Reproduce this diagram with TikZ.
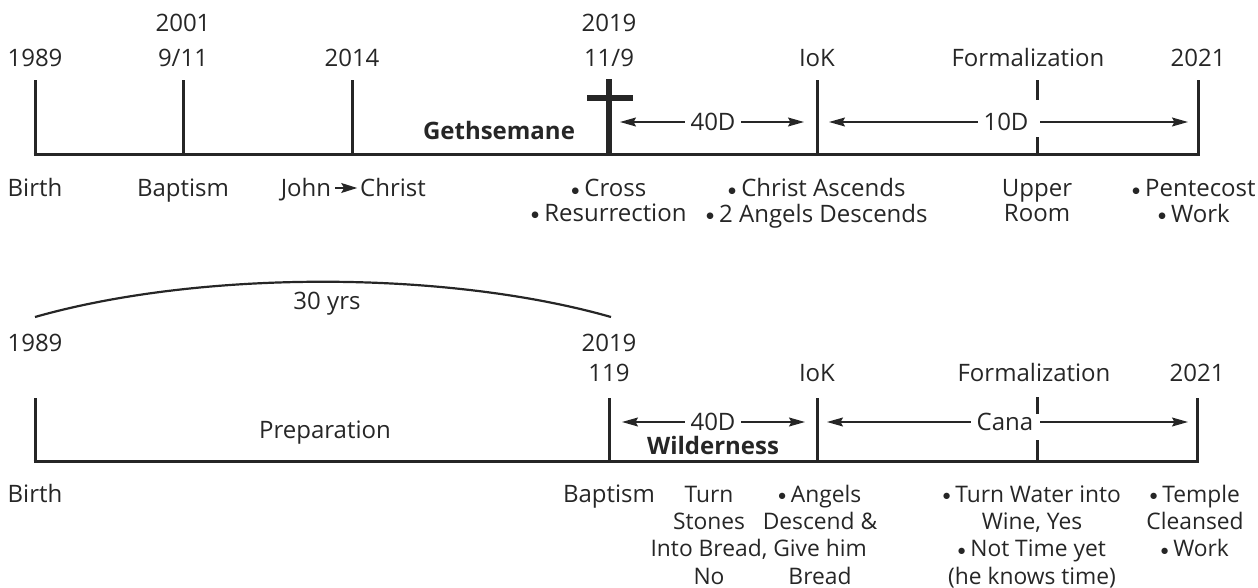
\documentclass[tikz,border=0pt]{standalone}
\usepackage{fontspec}
\usepackage{graphicx}
\setmainfont{Open Sans}
\newfontfamily\symfont{DejaVu Sans}
\usetikzlibrary{arrows.meta}
\newcommand\bl{\raisebox{0.16em}{\scalebox{0.36}{\symfont ●}}\hspace{0.22em}}
\newcommand\ml[1]{\begin{tabular}[t]{@{}c@{}}#1\end{tabular}}
\begin{document}
\begin{tikzpicture}[x=0.5pt,y=-0.5pt,
  every node/.style={inner sep=0pt,outer sep=0pt,font=\fontsize{12}{12}\selectfont,text=black!85},
  lbl/.style={anchor=base},
  mlbl/.style={anchor=base,font=\fontsize{12}{12}\selectfont},
  mlblb/.style={anchor=base,font=\fontsize{11.4}{13.7}\selectfont},
  axis/.style={line width=1.5pt,draw=black!85},
  tick/.style={line width=1.5pt,draw=black!85},
  arr/.style={line width=0.7pt,draw=black!85,-{Stealth[length=8pt,width=4.5pt,inset=1.2pt]}},
  alab/.style={inner sep=3pt},
  cross/.style={line width=2.6pt,draw=black!85},
  arcl/.style={line width=1.1pt,draw=black!85}]
\useasboundingbox (0,0) rectangle (1258,588);

% ===== top timeline =====
\coordinate (tA) at (35,155);
\coordinate (tB) at (183,155);
\coordinate (tC) at (352,155);
\coordinate (tD) at (609,155);
\coordinate (tE) at (817,155);
\coordinate (tF) at (1037,155);
\coordinate (tG) at (1198,155);
\draw[axis] ([xshift=-0.75pt]tA) -- ([xshift=0.75pt]tG);
\draw[tick] (tA) -- ++(0,-75);
\draw[tick] (tB) -- ++(0,-75);
\draw[tick] (tC) -- ++(0,-75);
\draw[tick] (tE) -- ++(0,-75);
\draw[tick] (tG) -- ++(0,-75);
\draw[tick] (tF) -- ++(0,-18);
\draw[tick] (1037,100) -- (1037,80);
\draw[cross] (tD) -- (609,79);
\draw[cross] (587,98) -- (633,98);

\node[lbl] (t1989) at (35,67) {1989};
\node[lbl] (t2001) at (183,32) {2001};
\node[lbl] (t911) at (183,67) {9/11};
\node[lbl] (t2014) at (352,67) {2014};
\node[lbl] (t2019) at (609,32) {2019};
\node[lbl] (t119) at (609,67) {11/9};
\node[lbl] (tiok) at (817,67) {IoK};
\node[lbl] (tform) at (1028,67) {Formalization};
\node[lbl] (t2021) at (1198,67) {2021};

\node[lbl,font=\fontsize{12}{12}\selectfont\bfseries] (geth) at (499,140) {Gethsemane};

\node[alab] (t40) at (713,122) {40D};
\coordinate (t40l) at (620,122);
\coordinate (t40r) at (804,122);
\draw[arr] (t40.west) -- (t40l);
\draw[arr] (t40.east) -- (t40r);

\node[alab] (t10) at (1006,122) {10D};
\coordinate (t10l) at (829,122);
\coordinate (t10r) at (1188,122);
\draw[arr] (t10.west) -- (t10l);
\draw[arr] (1040,122) -- (t10r);

\node[lbl] (tbirth) at (35,197) {Birth};
\node[lbl] (tbapt) at (183,197) {Baptism};
\node[lbl] (john) at (306,197) {John};
\node[lbl] (christ) at (393,197) {Christ};
\draw[line width=0.7pt,draw=black!85,-{Stealth[length=8pt,width=5pt,inset=1.5pt]}] (john.east |- 0,188) ++(4,0) -- ([xshift=-1.5pt]christ.west |- 0,188);
\node[mlbl] (tcross) at (609,197) {\ml{\bl Cross\\\bl Resurrection}};
\node[mlbl] (tasc) at (817,197) {\ml{\bl Christ Ascends\\\bl 2 Angels Descends}};
\node[mlbl] (tupper) at (1037,197) {\ml{Upper\\Room}};
\node[mlbl] (tpent) at (1194,197) {\ml{\bl Pentecost\\\bl Work}};

% ===== bottom timeline =====
\coordinate (bA) at (35,461);
\coordinate (bD) at (609,461);
\coordinate (bE) at (817,461);
\coordinate (bF) at (1037,461);
\coordinate (bG) at (1197,461);
\draw[axis] ([xshift=-0.75pt]bA) -- ([xshift=0.75pt]bG);
\draw[tick] (bA) -- ++(0,-63);
\draw[tick] (bD) -- ++(0,-63);
\draw[tick] (bE) -- ++(0,-63);
\draw[tick] (bG) -- ++(0,-63);
\draw[tick] (bF) -- ++(0,-21);
\draw[tick] (1037,414) -- (1037,397);

\coordinate (arcL) at (35,317);
\coordinate (arcR) at (611,317);
\draw[arcl] (arcL) .. controls (200,270) and (446,270) .. (arcR);
\node[lbl] (yrs) at (327,309) {30 yrs};

\node[lbl] (b1989) at (35,351) {1989};
\node[lbl] (b2019) at (609,351) {2019};
\node[lbl] (b119) at (609,381) {119};
\node[lbl] (biok) at (817,381) {IoK};
\node[lbl] (bform) at (1034,381) {Formalization};
\node[lbl] (b2021) at (1197,381) {2021};

\node[lbl] (prep) at (325,438) {Preparation};

\node[alab] (b40) at (713,422) {40D};
\coordinate (b40l) at (622,422);
\coordinate (b40r) at (805,422);
\draw[arr] (b40.west) -- (b40l);
\draw[arr] (b40.east) -- (b40r);
\node[lbl,font=\fontsize{12}{12}\selectfont\bfseries] (wild) at (713,454) {Wilderness};

\node[alab] (cana) at (1005,422) {Cana};
\coordinate (canal) at (827,422);
\coordinate (canar) at (1188,422);
\draw[arr] (cana.west) -- (canal);
\draw[arr] (1040,422) -- (canar);

\node[lbl] (bbirth) at (35,502) {Birth};
\node[lbl] (bbapt) at (609,502) {Baptism};
\node[mlblb] (stones) at (709,502) {\ml{Turn\\Stones\\Into Bread,\\No}};
\node[mlblb] (angels) at (820,502) {\ml{\bl Angels\\Descend \&\\Give him\\Bread}};
\node[mlblb] (water) at (1032,502) {\ml{\bl Turn Water into\\Wine, Yes\\\bl Not Time yet\\(he knows time)}};
\node[mlblb] (temple) at (1195,502) {\ml{\bl Temple\\Cleansed\\\bl Work}};
\end{tikzpicture}
\end{document}
